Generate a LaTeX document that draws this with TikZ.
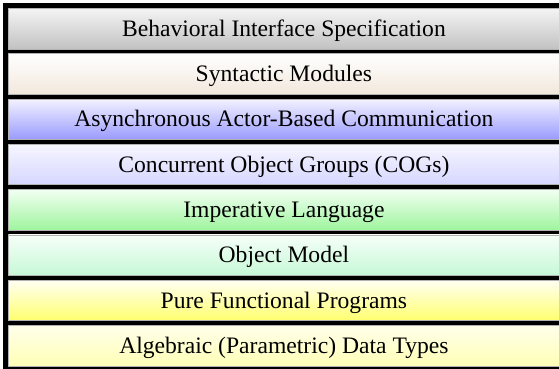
\documentclass[tikz,border=0pt]{standalone}
\usepackage{fontspec}
\setmainfont{Liberation Serif}
\definecolor{c1t}{HTML}{F4F4F4}\definecolor{c1b}{HTML}{C2C2C2}
\definecolor{c2t}{HTML}{FFFFFF}\definecolor{c2b}{HTML}{F2E8DC}
\definecolor{c3t}{HTML}{F2F2FF}\definecolor{c3b}{HTML}{9A9AFF}
\definecolor{c4t}{HTML}{F6F6FF}\definecolor{c4b}{HTML}{D6D6FF}
\definecolor{c5t}{HTML}{F2FFF2}\definecolor{c5b}{HTML}{9EF59E}
\definecolor{c6t}{HTML}{F6FFF8}\definecolor{c6b}{HTML}{C6F8D6}
\definecolor{c7t}{HTML}{FFFFF2}\definecolor{c7b}{HTML}{FFFF6E}
\definecolor{c8t}{HTML}{FFFFEA}\definecolor{c8b}{HTML}{FFFFB6}
\tikzset{
  layer/.style={draw=gray!60, line width=0.8bp, minimum width=551bp, minimum height=40.5bp,
    anchor=north west, inner sep=0pt, text depth=1bp, font=\fontsize{23.6bp}{27bp}\selectfont}
}
\begin{document}
\begin{tikzpicture}[x=1bp,y=-1bp]
\useasboundingbox (0,0) rectangle (559,368);
\fill[black] (3,3) rectangle (562,371);
\node[layer, top color=c1t, bottom color=c1b] (l1) at (8,8) {Behavioral Interface Specification};
\node[layer, top color=c2t, bottom color=c2b] (l2) at (8,53.3) {Syntactic Modules};
\node[layer, top color=c3t, bottom color=c3b] (l3) at (8,98.6) {Asynchronous Actor-Based Communication};
\node[layer, top color=c4t, bottom color=c4b] (l4) at (8,143.9) {Concurrent Object Groups (COGs)};
\node[layer, top color=c5t, bottom color=c5b] (l5) at (8,189.2) {Imperative Language};
\node[layer, top color=c6t, bottom color=c6b] (l6) at (8,234.5) {Object Model};
\node[layer, top color=c7t, bottom color=c7b] (l7) at (8,279.8) {Pure Functional Programs};
\node[layer, top color=c8t, bottom color=c8b] (l8) at (8,325.1) {Algebraic (Parametric) Data Types};
\end{tikzpicture}
\end{document}
